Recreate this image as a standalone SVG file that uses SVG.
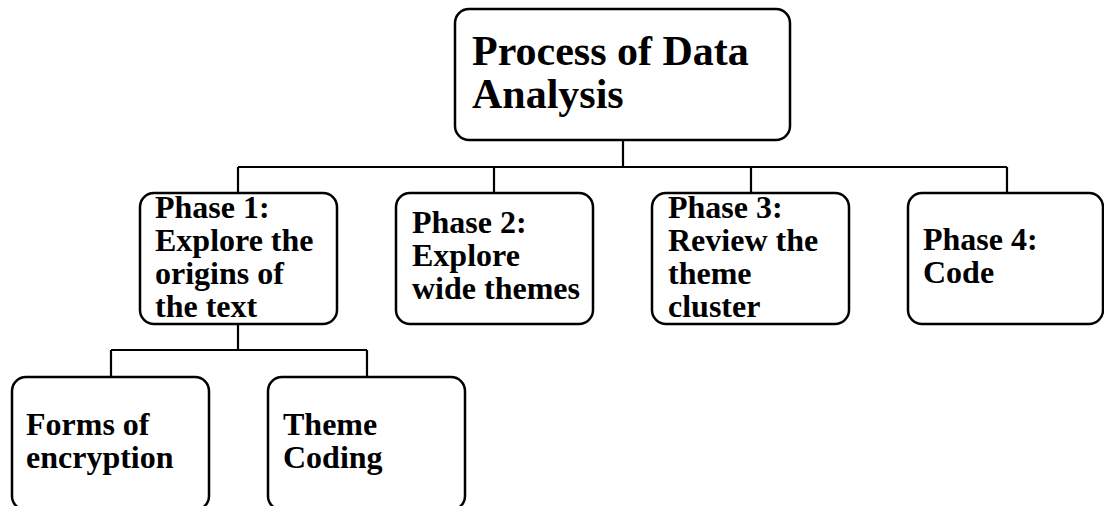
<svg xmlns="http://www.w3.org/2000/svg" width="1104" height="506" viewBox="0 0 1104 506">
  <style>
    .box { fill: #ffffff; stroke: #000000; stroke-width: 2.5; }
    .link { fill: none; stroke: #000000; stroke-width: 2.2; }
    text { font-family: "Liberation Serif", "Times New Roman", serif; font-weight: bold; fill: #000000; }
    .title { font-size: 42px; }
    .lbl { font-size: 32px; }
  </style>

  <rect x="0" y="0" width="1104" height="506" fill="#ffffff"/>

  <!-- connectors -->
  <g id="connectors">
    <path class="link" d="M623,140 V167 M238,167 H1007 M238,167 V193 M494,167 V193 M751,167 V193 M1007,167 V193"/>
    <path class="link" d="M238,324 V350 M111,350 H367 M111,350 V377 M367,350 V377"/>
  </g>

  <!-- root -->
  <g id="root">
    <rect class="box" x="455" y="9" width="335" height="131" rx="14"/>
    <text class="title" x="472" y="65">Process of Data</text>
    <text class="title" x="472" y="108">Analysis</text>
  </g>

  <!-- phases -->
  <g id="phase1">
    <rect class="box" x="140" y="193" width="197" height="131" rx="14"/>
    <text class="lbl" x="155" y="218">Phase 1:</text>
    <text class="lbl" x="155" y="251">Explore the</text>
    <text class="lbl" x="155" y="284">origins of</text>
    <text class="lbl" x="155" y="317">the text</text>
  </g>

  <g id="phase2">
    <rect class="box" x="396" y="193" width="197" height="131" rx="14"/>
    <text class="lbl" x="412" y="233">Phase 2:</text>
    <text class="lbl" x="412" y="266">Explore</text>
    <text class="lbl" x="412" y="299">wide themes</text>
  </g>

  <g id="phase3">
    <rect class="box" x="652" y="193" width="197" height="131" rx="14"/>
    <text class="lbl" x="668" y="218">Phase 3:</text>
    <text class="lbl" x="668" y="251">Review the</text>
    <text class="lbl" x="668" y="284">theme</text>
    <text class="lbl" x="668" y="317">cluster</text>
  </g>

  <g id="phase4">
    <rect class="box" x="908" y="193" width="195" height="131" rx="14"/>
    <text class="lbl" x="923" y="250">Phase 4:</text>
    <text class="lbl" x="923" y="283">Code</text>
  </g>

  <!-- sub-steps of phase 1 -->
  <g id="encryption">
    <rect class="box" x="12" y="377" width="197" height="133" rx="14"/>
    <text class="lbl" x="26" y="435">Forms of</text>
    <text class="lbl" x="26" y="468">encryption</text>
  </g>

  <g id="theme-coding">
    <rect class="box" x="268" y="377" width="197" height="133" rx="14"/>
    <text class="lbl" x="283" y="435">Theme</text>
    <text class="lbl" x="283" y="468">Coding</text>
  </g>
</svg>
